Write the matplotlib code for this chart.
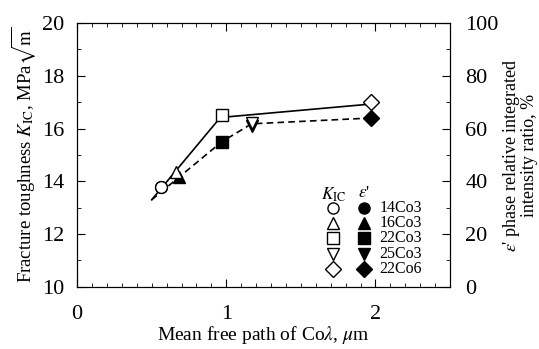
import matplotlib
matplotlib.use("Agg")
import matplotlib.pyplot as plt
from matplotlib.ticker import MultipleLocator

plt.rcParams['font.family'] = ['Liberation Serif', 'DejaVu Serif']
plt.rcParams['mathtext.fontset'] = 'stix'

# mean free path (um) and K_IC (MPa sqrt m), open symbols
samples = ['14Co3', '16Co3', '22Co3', '25Co3', '22Co6']
markers = ['o', '^', 's', 'v', 'D']
lam = [0.56, 0.66, 0.97, 1.17, 1.97]
kic = [13.8, 14.35, 16.5, 16.2, 17.02]
# epsilon' phase ratio (%), filled symbols
lam_eps = [0.56, 0.68, 0.97, 1.17, 1.97]
eps = [38.0, 41.8, 55.0, 61.0, 63.9]

# trend lines
kic_line_x = [0.50, 0.96, 1.97]
kic_line_y = [13.3, 16.42, 16.93]
eps_line_x = [0.50, 0.97, 1.17, 1.97]
eps_line_y = [33.0, 55.0, 61.8, 64.0]

fig = plt.figure(figsize=(5.39, 3.49), dpi=100)
ax = fig.add_axes([0.143, 0.178, 0.692, 0.756])
ax2 = ax.twinx()

ax.plot(kic_line_x, kic_line_y, color='black', lw=1.2, zorder=2)
ax2.plot(eps_line_x, eps_line_y, color='black', lw=1.2, ls=(0, (4, 2.5)), zorder=2)

for x, y, m in zip(lam_eps, eps, markers):
    ax2.plot(x, y, marker=m, ms=8.5, color='black', ls='none', zorder=3)
for x, y, m in zip(lam, kic, markers):
    ax.plot(x, y, marker=m, ms=8.5, mfc='white', mec='black', mew=1.0, ls='none', zorder=4)
ax.set_zorder(ax2.get_zorder() + 1)
ax.patch.set_visible(False)

ax.set_xlim(0, 2.5)
ax.set_ylim(10, 20)
ax2.set_ylim(0, 100)
ax.xaxis.set_major_locator(MultipleLocator(1))
ax.xaxis.set_minor_locator(MultipleLocator(0.1))
ax.yaxis.set_major_locator(MultipleLocator(2))
ax.yaxis.set_minor_locator(MultipleLocator(1))
ax2.yaxis.set_major_locator(MultipleLocator(20))
ax2.yaxis.set_minor_locator(MultipleLocator(10))

ax.tick_params(which='both', direction='in', top=True, labelsize=16)
ax.tick_params(axis='y', pad=9)
ax.tick_params(axis='x', pad=13)
ax.tick_params(which='major', length=6)
ax.tick_params(which='minor', length=3)
ax2.tick_params(which='both', direction='in', labelsize=16, pad=11)
ax2.tick_params(which='major', length=6)
ax2.tick_params(which='minor', length=3)

ax.set_xlabel(r'Mean free path of Co$\lambda$, $\mu$m', fontsize=14, labelpad=0)
ax.set_ylabel(r'Fracture toughness $K_{\rm IC}$, MPa$\sqrt{\rm m}$', fontsize=13.5, labelpad=3)
ax2.set_ylabel("$\\varepsilon$' phase relative integrated\nintensity ratio, %",
               fontsize=13, labelpad=2, rotation=90, linespacing=0.85)

# hand-made legend
ax.text(0.687, 0.35, r'$K_{\rm IC}$', transform=ax.transAxes, fontsize=12.5, ha='center', va='center')
ax.text(0.77, 0.355, "$\\varepsilon$'", transform=ax.transAxes, fontsize=12.5, ha='center', va='center')
for i, (m, name) in enumerate(zip(markers, samples)):
    yy = 0.30 - i * 0.058
    ax.plot(0.687, yy, marker=m, ms=8, mfc='white', mec='black', transform=ax.transAxes, clip_on=False)
    ax.plot(0.77, yy, marker=m, ms=8, color='black', transform=ax.transAxes, clip_on=False)
    ax.text(0.81, yy, name, transform=ax.transAxes, fontsize=11.5, va='center')

fig.savefig('out.png', dpi=100)
